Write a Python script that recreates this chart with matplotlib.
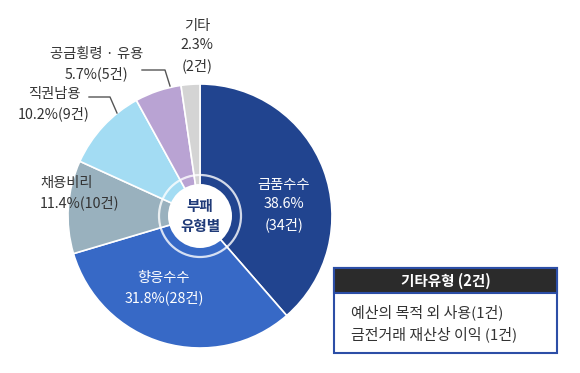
import matplotlib
matplotlib.use("Agg")
from matplotlib import pyplot as plt
from matplotlib.patches import Circle, Rectangle

plt.rcParams['font.family'] = ['Noto Sans CJK KR', 'DejaVu Sans']

# data
categories = ['금품수수', '향응수수', '채용비리', '직권남용', '공금횡령 · 유용', '기타']
percents = [38.6, 31.8, 11.4, 10.2, 5.7, 2.3]
counts = [34, 28, 10, 9, 5, 2]
colors = ['#21448f', '#3769c6', '#99b1be', '#a3dcf3', '#b9a3d3', '#d4d4d4']

other_title = '기타유형 (2건)'
other_items = ['예산의 목적 외 사용(1건)', '금전거래 재산상 이익 (1건)']

W, H = 580, 373
fig = plt.figure(figsize=(W / 100, H / 100), dpi=100)
ax = fig.add_axes([0, 0, 1, 1])

def Y(y):
    # pixel row -> data y
    return H - y

cx, cy, R = 200, 216, 132
ax.pie(percents, colors=colors, startangle=90, counterclock=False,
       center=(cx, Y(cy)), radius=R,
       wedgeprops=dict(edgecolor='white', linewidth=1.2))

# center hole and thin ring
ax.add_patch(Circle((cx, Y(cy)), 41, facecolor='none', edgecolor='white', lw=1.6, alpha=0.8))
ax.add_patch(Circle((cx, Y(cy)), 32, facecolor='white', edgecolor='none'))
ax.text(cx, Y(cy), '부패\n유형별', ha='center', va='center', fontsize=10.5,
        fontweight='bold', color='#1f3a78', linespacing=1.3)

# labels
fs = 10.3
white_kw = dict(color='white', fontsize=fs, ha='center', va='center', linespacing=1.5)
dark_kw = dict(color='#333333', fontsize=fs, va='center', linespacing=1.5)

ax.text(284, Y(205), '%s\n%.1f%%\n(%d건)' % (categories[0], percents[0], counts[0]), **white_kw)
ax.text(164, Y(288), '%s\n%.1f%%(%d건)' % (categories[1], percents[1], counts[1]), **white_kw)
ax.text(40, Y(193), '%s\n%.1f%%(%d건)' % (categories[2], percents[2], counts[2]), ha='left', **dark_kw)
ax.text(54, Y(104), '%s\n%.1f%%(%d건)' % (categories[3], percents[3], counts[3]), ha='center', **dark_kw)
ax.text(97, Y(64), '%s\n%.1f%%(%d건)' % (categories[4], percents[4], counts[4]), ha='center', **dark_kw)
ax.text(197, Y(46), '%s\n%.1f%%\n(%d건)' % (categories[5], percents[5], counts[5]), ha='center', **dark_kw)

# leader lines
ax.plot([89, 110, 117], [Y(97), Y(97), Y(113)], color='#555555', lw=1)
ax.plot([142, 165, 170], [Y(70), Y(70), Y(86)], color='#555555', lw=1)

# other types box
bx0, bx1, by0, by1, hy = 334, 557, 268, 353, 293
ax.add_patch(Rectangle((bx0, Y(by1)), bx1 - bx0, by1 - by0, facecolor='white',
                       edgecolor='#2c4ea6', lw=1.5, zorder=3))
ax.add_patch(Rectangle((bx0, Y(hy)), bx1 - bx0, hy - by0, facecolor='#2b2b2b',
                       edgecolor='#2c4ea6', lw=1.5, zorder=4))
ax.text((bx0 + bx1) / 2, Y(280.5), other_title, color='white', fontsize=10.5,
        fontweight='bold', ha='center', va='center', zorder=5)
for i, item in enumerate(other_items):
    ax.text(351, Y(312 + 22 * i), item, color='#333333', fontsize=10.8,
            ha='left', va='center', zorder=5)

ax.set_xlim(0, W)
ax.set_ylim(0, H)
ax.set_aspect('auto')
ax.axis('off')

fig.savefig('out.png', dpi=100)
